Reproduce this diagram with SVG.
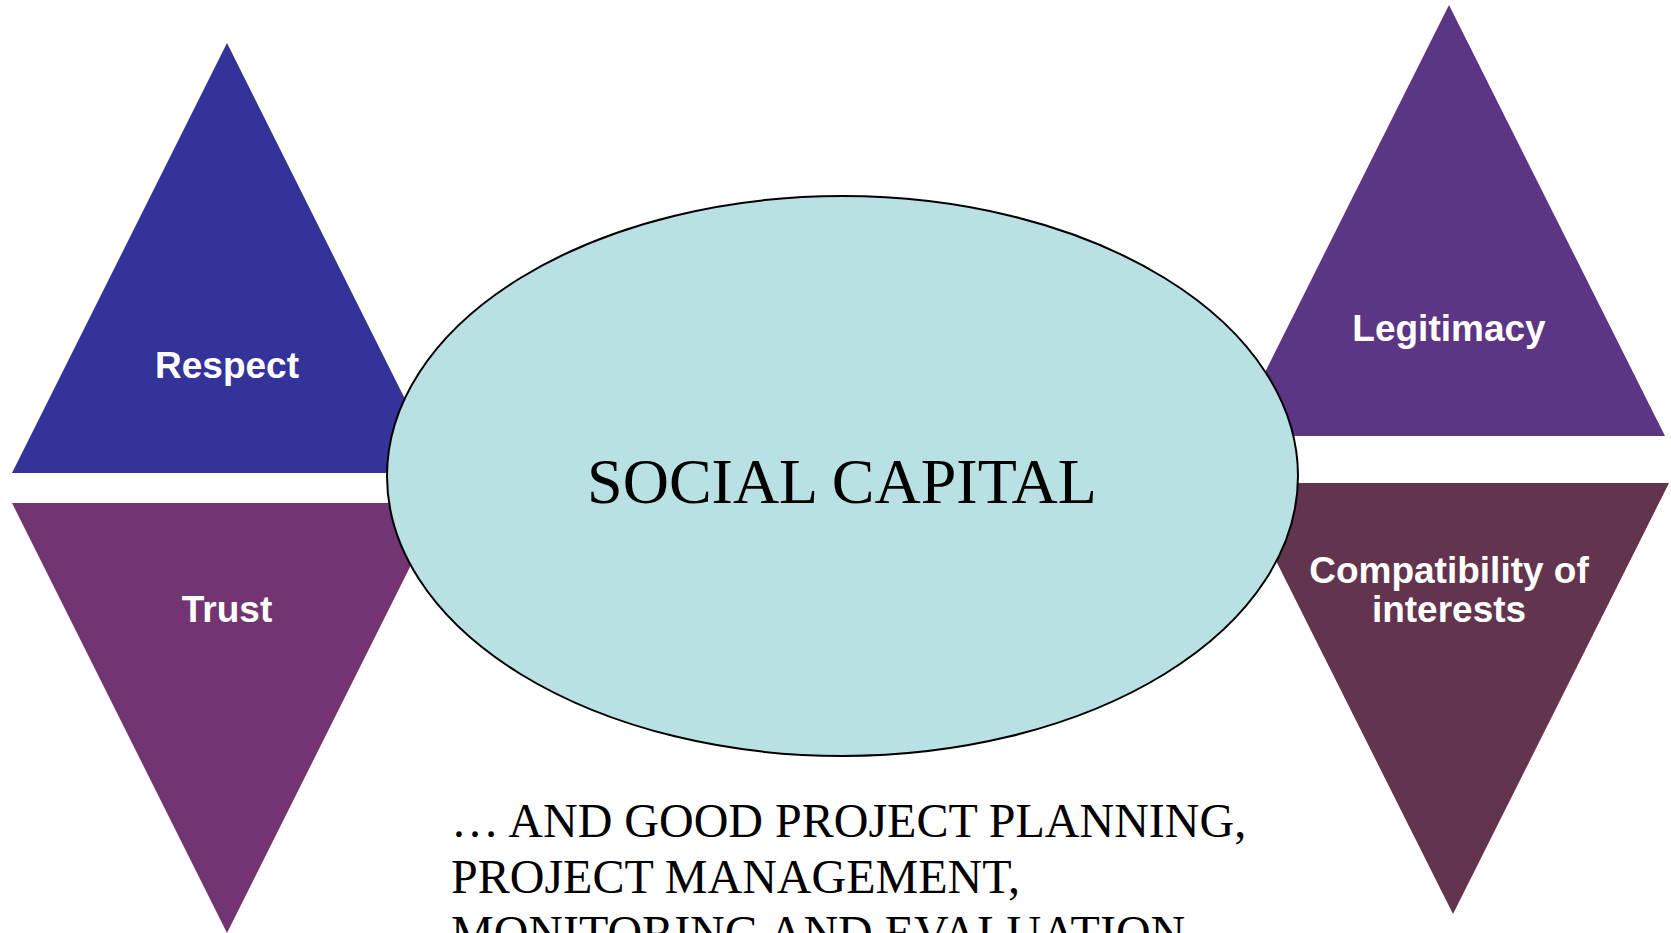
<svg xmlns="http://www.w3.org/2000/svg" width="1671" height="933" viewBox="0 0 1671 933">
<style>
.lbl{font-family:"Liberation Sans",Arial,sans-serif;font-weight:bold;font-size:37px;fill:#FFFFFF;text-anchor:middle}
.serif{font-family:"Liberation Serif","Times New Roman",serif;fill:#000000}
</style>
<rect x="0" y="0" width="1671" height="933" fill="#FFFFFF"/>
<g id="respect">
<polygon points="227,43 442,473 12,473" fill="#333399"/>
<text class="lbl" x="227" y="378">Respect</text>
</g>
<g id="trust">
<polygon points="12,503 442,503 227,933" fill="#733572"/>
<text class="lbl" x="227" y="622">Trust</text>
</g>
<g id="legitimacy">
<polygon points="1449,5 1665,436 1233,436" fill="#5C3584"/>
<text class="lbl" x="1449" y="341">Legitimacy</text>
</g>
<g id="compatibility">
<polygon points="1237,483 1669,483 1453,914" fill="#62344D"/>
<text class="lbl" x="1449" y="583">Compatibility of</text>
<text class="lbl" x="1449" y="622">interests</text>
</g>
<g id="social-capital">
<ellipse cx="842.5" cy="476" rx="455.5" ry="280" fill="#B9E0E3" stroke="#000000" stroke-width="2"/>
<text class="serif" x="842" y="503" font-size="64" text-anchor="middle">SOCIAL CAPITAL</text>
</g>
<g id="connectors"></g>
<g id="footer">
<text class="serif" x="451" y="837" font-size="48">… AND GOOD PROJECT PLANNING,</text>
<text class="serif" x="451" y="893" font-size="48">PROJECT MANAGEMENT,</text>
<text class="serif" x="451" y="949" font-size="48">MONITORING AND EVALUATION</text>
</g>
</svg>
